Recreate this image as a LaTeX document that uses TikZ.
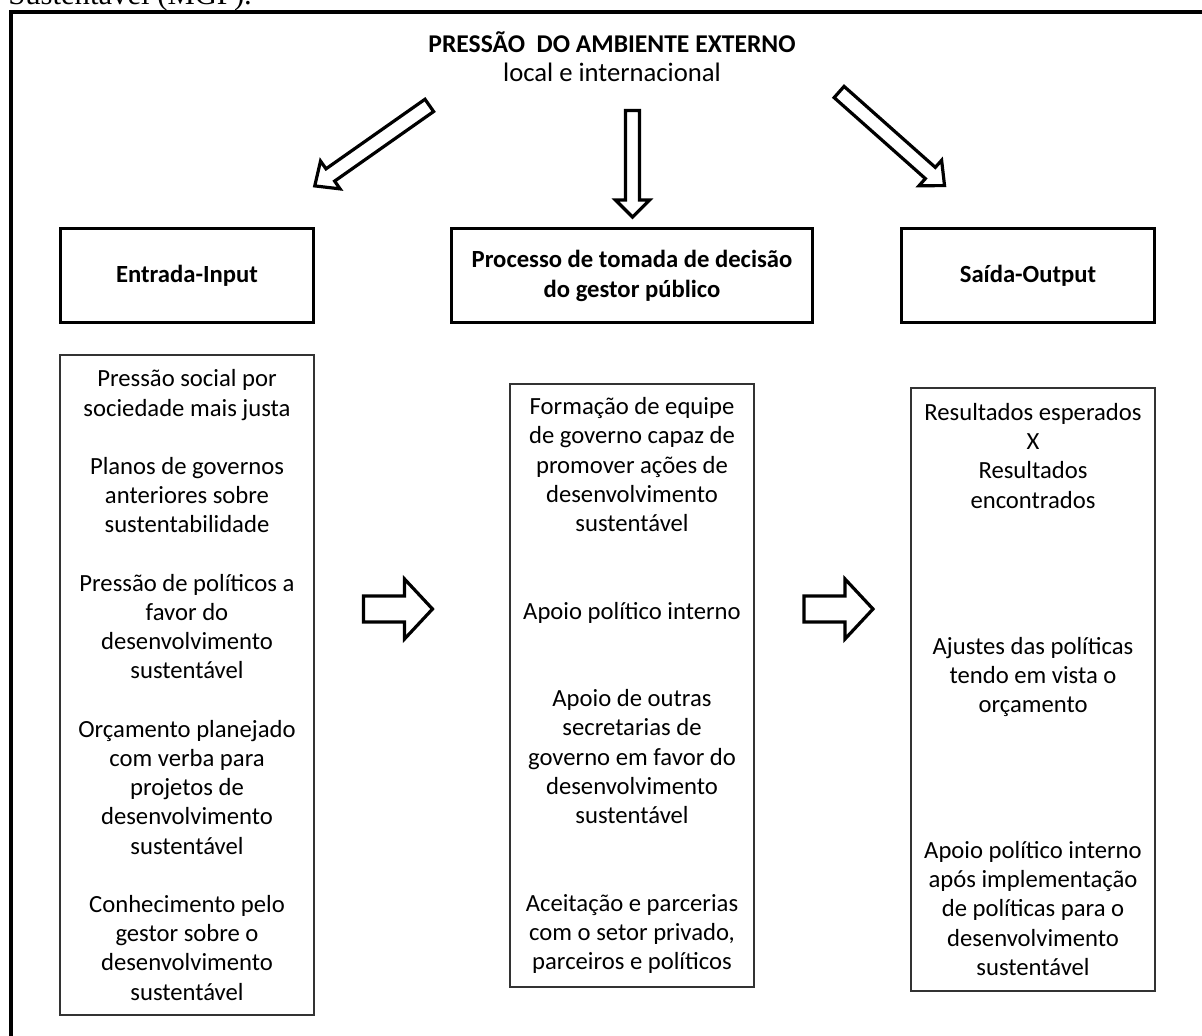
\documentclass[tikz,border=0pt]{standalone}
\usepackage{fontspec}
\setmainfont{Carlito}
\newfontfamily\cutserif{Liberation Serif}
\newcommand{\blockarr}[7]{%
  \draw[blockline,shift={(#1,#2)},rotate=#3]
    (0,#5) -- ({#4-#7},#5) -- ({#4-#7},#6) -- (#4,0) -- ({#4-#7},-#6)
    -- ({#4-#7},-#5) -- (0,-#5) -- cycle;}
\begin{document}
\begin{tikzpicture}[x=0.75pt,y=-0.75pt,
  txt/.style={font=\fontsize{18.5}{21.9}\selectfont},
  btxt/.style={font=\bfseries\fontsize{18.5}{22.5}\selectfont},
  ttxt/.style={font=\fontsize{20}{22}\selectfont},
  titletxt/.style={font=\bfseries\fontsize{19.2}{22}\selectfont},
  headbox/.style={draw=black,line width=2.3pt,inner sep=0pt,align=center,
    btxt,minimum height={94*0.75pt}},
  contentbox/.style={draw=black!80,line width=1pt,inner sep=0pt,align=center,txt},
  blockline/.style={draw=black,line width=2.4pt,fill=white,line join=miter},
  frame/.style={draw=black,line width=3pt}]
\useasboundingbox (0,0) rectangle (1202,1035);
\clip (0,0) rectangle (1202,1035);
\fill[white] (0,0) rectangle (1202,1035);

% cropped caption line above the frame
\node[anchor=base west,inner sep=0pt,font=\cutserif\fontsize{23}{27}\selectfont] (cut) at (8,4) {Sustentável (MGP).};

% outer frame
\draw[frame] (11,12) rectangle (1230,1060);

% title
\node[titletxt,inner sep=0pt] (title) at (612,42) {PRESSÃO \ DO AMBIENTE EXTERNO};
\node[ttxt,inner sep=0pt] (subtitle) at (612,72) {local e internacional};

% header boxes
\node[headbox,minimum width={253*0.75pt}] (input) at (187,275.5) {Entrada-Input};
\node[headbox,minimum width={361*0.75pt}] (process) at (632,275.5) {Processo de tomada de decisão\\do gestor público};
\node[headbox,minimum width={253*0.75pt}] (output) at (1028,275.5) {Saída-Output};

% content boxes
\node[contentbox,minimum width={254*0.75pt},minimum height={660*0.75pt}] (inlist) at (187,685) {%
Pressão social por\\sociedade mais justa\\[21.9pt]
Planos de governos\\anteriores sobre\\sustentabilidade\\[21.9pt]
Pressão de políticos a\\favor do\\desenvolvimento\\sustentável\\[21.9pt]
Orçamento planejado\\com verba para\\projetos de\\desenvolvimento\\sustentável\\[21.9pt]
Conhecimento pelo\\gestor sobre o\\desenvolvimento\\sustentável};

\node[contentbox,minimum width={244*0.75pt},minimum height={603*0.75pt}] (proclist) at (632,685.5) {%
Formação de equipe\\de governo capaz de\\promover ações de\\desenvolvimento\\sustentável\\[43.8pt]
Apoio político interno\\[43.8pt]
Apoio de outras\\secretarias de\\governo em favor do\\desenvolvimento\\sustentável\\[43.8pt]
Aceitação e parcerias\\com o setor privado,\\parceiros e políticos};

\node[contentbox,minimum width={244*0.75pt},minimum height={603*0.75pt}] (outlist) at (1033,689.5) {%
Resultados esperados\\X\\Resultados\\encontrados\\[87.6pt]
Ajustes das políticas\\tendo em vista o\\orçamento\\[87.6pt]
Apoio político interno\\após implementação\\de políticas para o\\desenvolvimento\\sustentável};

% block arrows: x, y, angle, length, shaft half-width, head half-width, head length
\blockarr{429.3}{105.4}{-144.9}{140}{7.5}{17}{19}
\blockarr{632.5}{110.5}{-90}{106.5}{7}{17}{17}
\blockarr{839.1}{92}{-41.6}{141}{7.5}{17}{19}
\blockarr{363.5}{609}{0}{69}{13}{30}{28}
\blockarr{804}{609}{0}{69}{13}{30}{28}
\end{tikzpicture}
\end{document}
